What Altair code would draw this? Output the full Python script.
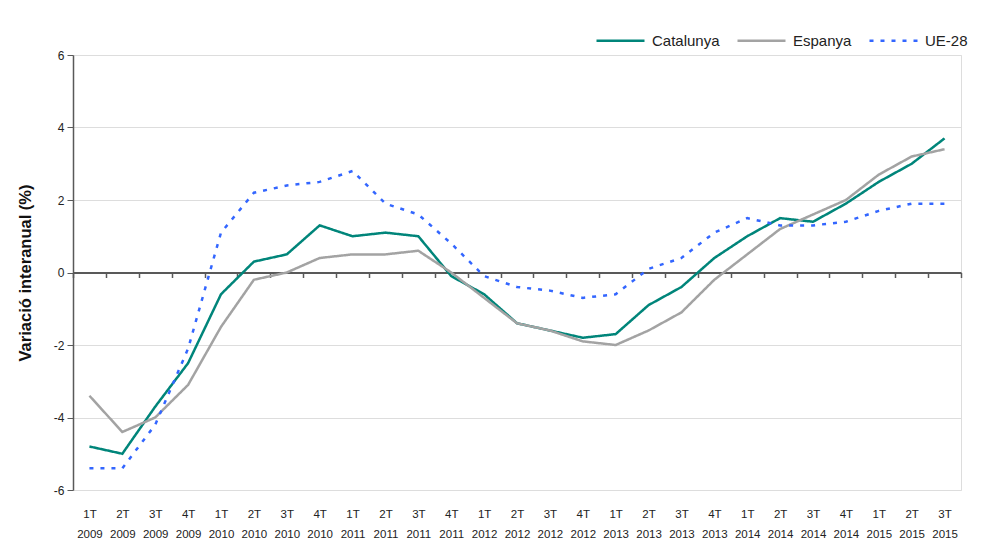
import altair as alt
import pandas as pd

quarters = [
    "1T 2009", "2T 2009", "3T 2009", "4T 2009",
    "1T 2010", "2T 2010", "3T 2010", "4T 2010",
    "1T 2011", "2T 2011", "3T 2011", "4T 2011",
    "1T 2012", "2T 2012", "3T 2012", "4T 2012",
    "1T 2013", "2T 2013", "3T 2013", "4T 2013",
    "1T 2014", "2T 2014", "3T 2014", "4T 2014",
    "1T 2015", "2T 2015", "3T 2015",
]
catalunya = [-4.8, -5.0, -3.7, -2.5, -0.6, 0.3, 0.5, 1.3, 1.0, 1.1, 1.0, -0.1,
             -0.6, -1.4, -1.6, -1.8, -1.7, -0.9, -0.4, 0.4, 1.0, 1.5, 1.4, 1.9,
             2.5, 3.0, 3.7]
espanya = [-3.4, -4.4, -4.0, -3.1, -1.5, -0.2, 0.0, 0.4, 0.5, 0.5, 0.6, 0.0,
           -0.7, -1.4, -1.6, -1.9, -2.0, -1.6, -1.1, -0.2, 0.5, 1.2, 1.6, 2.0,
           2.7, 3.2, 3.4]
ue28 = [-5.4, -5.4, -4.2, -2.1, 1.1, 2.2, 2.4, 2.5, 2.8, 1.9, 1.6, 0.8,
        -0.1, -0.4, -0.5, -0.7, -0.6, 0.1, 0.4, 1.1, 1.5, 1.3, 1.3, 1.4,
        1.7, 1.9, 1.9]
series = ["Catalunya", "Espanya", "UE-28"]
colors = ["#00857A", "#A3A3A3", "#3366FF"]
dashes = [[1, 0], [1, 0], [4, 7]]
y_ticks = [-6, -4, -2, 0, 2, 4, 6]

rows = []
for name, vals in zip(series, [catalunya, espanya, ue28]):
    for q, v in zip(quarters, vals):
        rows.append({"Trimestre": q, "Serie": name, "Valor": v})
df = pd.DataFrame(rows)

FONT = "Liberation Sans"
W, H = 888, 435

legend = alt.Legend(
    title=None, orient="none", legendX=522, legendY=-40, direction="horizontal",
    symbolType="stroke", symbolSize=2304, symbolStrokeWidth=2.5,
    labelFontSize=15, labelFont=FONT, labelColor="#222222",
    columnPadding=12, labelOffset=6,
)

chart = alt.Chart(df).mark_line(strokeWidth=2.5).encode(
    x=alt.X(
        "Trimestre:N", sort=quarters,
        scale=alt.Scale(type="band", paddingInner=0, paddingOuter=0),
        axis=alt.Axis(
            title=None, orient="bottom", offset=-217.5, labelAngle=0,
            labelExpr="split(datum.label, ' ')", labelLineHeight=20,
            labelPadding=231, labelFontSize=11.5, labelFont=FONT, labelColor="#222222",
            domainColor="#595959", domainWidth=2, tickColor="#595959", tickWidth=1.5,
            tickSize=5, tickBand="extent", grid=False,
        ),
    ),
    y=alt.Y(
        "Valor:Q",
        scale=alt.Scale(domain=[-6, 6], nice=False),
        axis=alt.Axis(
            title="Variació interanual (%)", titleFontSize=16.5, titleFont=FONT,
            titleFontWeight="bold", titleColor="#111111", titlePadding=20,
            values=y_ticks, labelExpr="toString(datum.value)",
            labelFontSize=12, labelFont=FONT, labelColor="#222222", labelPadding=3,
            domainColor="#595959", domainWidth=1.5, tickColor="#595959", tickSize=6,
            gridColor="#DDDDDD", gridWidth=1.2,
        ),
    ),
    color=alt.Color("Serie:N", scale=alt.Scale(domain=series, range=colors), legend=legend),
    strokeDash=alt.StrokeDash("Serie:N", scale=alt.Scale(domain=series, range=dashes), legend=legend),
).properties(
    width=W, height=H,
    autosize=alt.AutoSizeParams(type="none"),
    padding={"left": 65, "top": 47, "right": 12, "bottom": 53},
).configure_view(stroke=None).configure(background="white")

chart.save("out.html", embed_options={"renderer": "svg", "actions": False})
